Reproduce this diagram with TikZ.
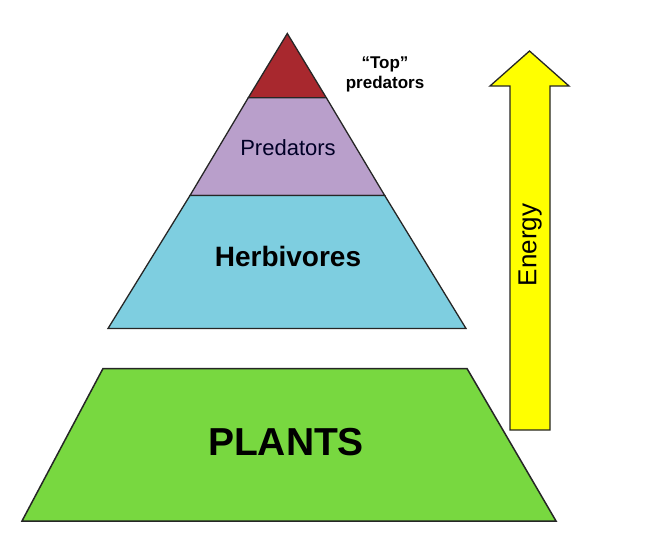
\documentclass[tikz,border=0pt]{standalone}
\usepackage{fontspec}
\setmainfont{Liberation Sans}
\begin{document}
\begin{tikzpicture}[x=1pt,y=-1pt,
  band/.style={draw=black!85, line width=1.3pt, line join=miter},
  lbl/.style={inner sep=0pt, anchor=base, font=\bfseries}]
\definecolor{topred}{HTML}{A8282E}
\definecolor{predc}{HTML}{B99FCB}
\definecolor{herbc}{HTML}{7ECEE0}
\definecolor{plantc}{HTML}{78D840}
\definecolor{energyc}{HTML}{FFFF00}
\useasboundingbox (0,0) rectangle (658,549);
% pyramid
\coordinate (apex) at (287.3,33.5);
\coordinate (l1) at (248.3,97.7); \coordinate (r1) at (326.3,97.7);
\coordinate (l2) at (190,195.5); \coordinate (r2) at (384.7,195.5);
\coordinate (l3) at (108,328.5); \coordinate (r3) at (466,328.5);
\filldraw[band, fill=topred] (apex) -- (r1) -- (l1) -- cycle;
\filldraw[band, fill=predc] (l1) -- (r1) -- (r2) -- (l2) -- cycle;
\filldraw[band, fill=herbc] (l2) -- (r2) -- (r3) -- (l3) -- cycle;
% plants
\filldraw[band, fill=plantc, line width=1.5pt] (103,368.5) -- (467,368.5) -- (556,521) -- (22,521) -- cycle;
% energy arrow
\filldraw[draw=black!85, line width=1.3pt, fill=energyc]
  (510,430) -- (510,86) -- (490,86) -- (529.5,51) -- (569,86) -- (550,86) -- (550,430) -- cycle;
% labels
\node[lbl, font=\bfseries\fontsize{17}{20}\selectfont, align=center, anchor=center] (top) at (385,74) {“Top”\\predators};
\node[lbl, font=\fontsize{22}{26}\selectfont, text=black!85!blue] (pred) at (288,155) {Predators};
\node[lbl, font=\bfseries\fontsize{28}{32}\selectfont] (herb) at (288,266.5) {Herbivores};
\node[lbl, font=\bfseries\fontsize{39}{44}\selectfont] (plants) at (286,455) {PLANTS};
\node[inner sep=0pt, font=\fontsize{26}{30}\selectfont, rotate=90] (energy) at (530,245) {Energy};
\end{tikzpicture}
\end{document}
